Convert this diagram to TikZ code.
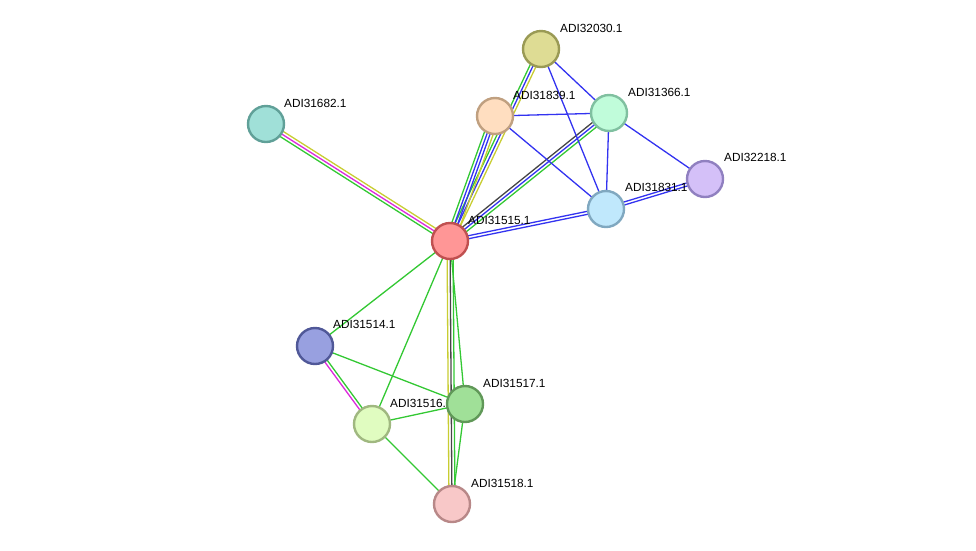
\documentclass[tikz,border=0pt]{standalone}
\usepackage{fontspec}
\setmainfont{Liberation Sans}
\usetikzlibrary{calc}
\pgfdeclarelayer{back}
\pgfdeclarelayer{names}
\pgfsetlayers{back,names,main}
\definecolor{lgreen}{RGB}{51,200,51}
\definecolor{lblue}{RGB}{51,51,240}
\definecolor{lyellow}{RGB}{200,205,50}
\definecolor{lpink}{RGB}{220,40,220}
\definecolor{lgray}{RGB}{70,70,70}
% one line of an edge, shifted sideways by #3
\newcommand\link[4]{\draw[edge,#4] ($(#1)!#3!90:(#2)$) -- ($(#2)!#3!-90:(#1)$);}
\begin{document}
\begin{tikzpicture}[x=1pt,y=-1pt,
  prot/.style={circle, line width=2.4pt, minimum size=36pt, inner sep=0pt},
  lbl/.style={anchor=base west, font=\fontsize{11.8}{13}\selectfont, inner sep=0pt},
  edge/.style={line width=1.3pt}]
\useasboundingbox (0,0) rectangle (976,550);
\node[prot, fill={rgb,255:red,255;green,150;blue,150}, draw={rgb,255:red,192;green,80;blue,80}] (P515) at (450,241) {};
\node[prot, fill={rgb,255:red,222;green,220;blue,148}, draw={rgb,255:red,154;green,154;blue,85}] (P030) at (541,49) {};
\node[prot, fill={rgb,255:red,255;green,222;blue,192}, draw={rgb,255:red,192;green,160;blue,128}] (P839) at (495,116) {};
\node[prot, fill={rgb,255:red,192;green,252;blue,218}, draw={rgb,255:red,128;green,192;blue,160}] (P366) at (609,113) {};
\node[prot, fill={rgb,255:red,212;green,192;blue,248}, draw={rgb,255:red,144;green,128;blue,192}] (P218) at (705,179) {};
\node[prot, fill={rgb,255:red,192;green,232;blue,252}, draw={rgb,255:red,128;green,168;blue,192}] (P831) at (606,209) {};
\node[prot, fill={rgb,255:red,160;green,224;blue,216}, draw={rgb,255:red,96;green,160;blue,152}] (P682) at (266,124) {};
\node[prot, fill={rgb,255:red,152;green,160;blue,224}, draw={rgb,255:red,80;green,88;blue,152}] (P514) at (315,346) {};
\node[prot, fill={rgb,255:red,224;green,252;blue,192}, draw={rgb,255:red,160;green,184;blue,128}] (P516) at (372,424) {};
\node[prot, fill={rgb,255:red,160;green,224;blue,152}, draw={rgb,255:red,96;green,152;blue,88}] (P517) at (465,404) {};
\node[prot, fill={rgb,255:red,248;green,200;blue,200}, draw={rgb,255:red,184;green,136;blue,136}] (P518) at (452,504) {};
\begin{pgfonlayer}{names}
\node[lbl] at ([shift={(18,-17)}]P515.center) {ADI31515.1};
\node[lbl] at ([shift={(19,-17)}]P030.center) {ADI32030.1};
\node[lbl] at ([shift={(18,-17)}]P839.center) {ADI31839.1};
\node[lbl] at ([shift={(19,-17)}]P366.center) {ADI31366.1};
\node[lbl] at ([shift={(19,-18)}]P218.center) {ADI32218.1};
\node[lbl] at ([shift={(19,-18)}]P831.center) {ADI31831.1};
\node[lbl] at ([shift={(18,-17)}]P682.center) {ADI31682.1};
\node[lbl] at ([shift={(18,-18)}]P514.center) {ADI31514.1};
\node[lbl] at ([shift={(18,-17)}]P516.center) {ADI31516.1};
\node[lbl] at ([shift={(18,-17)}]P517.center) {ADI31517.1};
\node[lbl] at ([shift={(19,-17)}]P518.center) {ADI31518.1};
\end{pgfonlayer}
\begin{pgfonlayer}{back}
\link{P515}{P682}{3pt}{lgreen}
\link{P515}{P682}{0pt}{lpink}
\link{P515}{P682}{-3pt}{lyellow}
\link{P515}{P030}{-3pt}{lyellow}
\link{P515}{P030}{0pt}{lblue}
\link{P515}{P030}{3pt}{lgreen}
\link{P515}{P839}{-4.5pt}{lyellow}
\link{P515}{P839}{-1.5pt}{lblue}
\link{P515}{P839}{1.5pt}{lblue}
\link{P515}{P839}{4.5pt}{lgreen}
\link{P515}{P366}{-3pt}{lgreen}
\link{P515}{P366}{0pt}{lblue}
\link{P515}{P366}{3pt}{lgray}
\link{P515}{P831}{-1.5pt}{lblue}
\link{P515}{P831}{1.5pt}{lblue}
\link{P515}{P514}{0pt}{lgreen}
\link{P515}{P516}{0pt}{lgreen}
\link{P515}{P517}{0pt}{lgreen}
\link{P515}{P518}{3pt}{lgreen}
\link{P515}{P518}{0pt}{lgray}
\link{P515}{P518}{-3pt}{lyellow}
\link{P030}{P366}{0pt}{lblue}
\link{P030}{P831}{0pt}{lblue}
\link{P839}{P366}{0pt}{lblue}
\link{P839}{P831}{0pt}{lblue}
\link{P366}{P831}{0pt}{lblue}
\link{P366}{P218}{0pt}{lblue}
\link{P831}{P218}{-1.5pt}{lblue}
\link{P831}{P218}{1.5pt}{lblue}
\link{P514}{P516}{-1.5pt}{lpink}
\link{P514}{P516}{1.5pt}{lgreen}
\link{P514}{P517}{0pt}{lgreen}
\link{P516}{P517}{0pt}{lgreen}
\link{P516}{P518}{0pt}{lgreen}
\link{P517}{P518}{0pt}{lgreen}
\end{pgfonlayer}
\end{tikzpicture}
\end{document}
